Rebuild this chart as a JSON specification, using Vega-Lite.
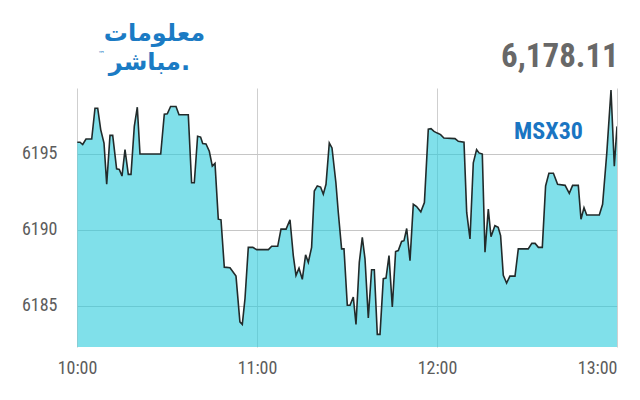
{
  "$schema": "https://vega.github.io/schema/vega-lite/v6.json",
  "width": 540,
  "height": 259,
  "autosize": {"type": "none"},
  "padding": {"left": 77, "top": 88, "right": 23, "bottom": 53},
  "background": "white",
  "config": {
    "view": {"stroke": null},
    "font": "Roboto"
  },
  "layer": [
    {
      "data": {
        "values": [
          {"m": 0.1, "v": 6195.74}, {"m": 1, "v": 6195.74}, {"m": 1.9, "v": 6195.59}, {"m": 3, "v": 6195.95},
          {"m": 4.9, "v": 6195.95}, {"m": 6, "v": 6197.97}, {"m": 6.9, "v": 6197.97}, {"m": 7.9, "v": 6196.57},
          {"m": 9, "v": 6195.69}, {"m": 9.9, "v": 6192.98}, {"m": 11, "v": 6196.19}, {"m": 11.9, "v": 6196.19},
          {"m": 13.2, "v": 6194.0}, {"m": 14.1, "v": 6193.96}, {"m": 15, "v": 6193.52}, {"m": 16, "v": 6195.26},
          {"m": 17.1, "v": 6193.63}, {"m": 18, "v": 6193.63}, {"m": 19.1, "v": 6196.78}, {"m": 20.1, "v": 6198.04},
          {"m": 21, "v": 6194.97}, {"m": 27.9, "v": 6194.97}, {"m": 29.1, "v": 6197.58}, {"m": 30.1, "v": 6197.61},
          {"m": 31.2, "v": 6198.09}, {"m": 33, "v": 6198.09}, {"m": 34, "v": 6197.54}, {"m": 36, "v": 6197.54},
          {"m": 37.1, "v": 6197.54}, {"m": 38.2, "v": 6193.08}, {"m": 39.1, "v": 6193.08}, {"m": 40.2, "v": 6196.13},
          {"m": 41.2, "v": 6196.08}, {"m": 41.9, "v": 6195.65}, {"m": 43, "v": 6195.63}, {"m": 44.1, "v": 6195.15},
          {"m": 45.1, "v": 6194.17}, {"m": 46, "v": 6194.35}, {"m": 47.1, "v": 6190.69}, {"m": 48, "v": 6190.65},
          {"m": 49.1, "v": 6187.54}, {"m": 51, "v": 6187.5}, {"m": 53, "v": 6186.95}, {"m": 54.3, "v": 6183.95},
          {"m": 55.1, "v": 6183.78}, {"m": 56, "v": 6185.48}, {"m": 57.1, "v": 6188.84}, {"m": 58.6, "v": 6188.84},
          {"m": 59.9, "v": 6188.69}, {"m": 63.8, "v": 6188.69}, {"m": 64.9, "v": 6188.91}, {"m": 66.9, "v": 6188.91},
          {"m": 68, "v": 6190.04}, {"m": 69.7, "v": 6190.04}, {"m": 71, "v": 6190.65}, {"m": 72.1, "v": 6188.3},
          {"m": 73, "v": 6187.0}, {"m": 74, "v": 6187.47}, {"m": 75.1, "v": 6186.74}, {"m": 76.2, "v": 6188.35},
          {"m": 77.1, "v": 6187.86}, {"m": 78.2, "v": 6188.84}, {"m": 79.1, "v": 6192.54}, {"m": 80.1, "v": 6192.87},
          {"m": 81.2, "v": 6192.8}, {"m": 82.1, "v": 6192.33}, {"m": 83, "v": 6192.98}, {"m": 84.1, "v": 6195.69},
          {"m": 85, "v": 6195.37}, {"m": 86.3, "v": 6193.08}, {"m": 87.1, "v": 6191.13}, {"m": 88.2, "v": 6188.74},
          {"m": 89, "v": 6188.74}, {"m": 90.1, "v": 6185.04}, {"m": 91, "v": 6185.04}, {"m": 92.1, "v": 6185.58},
          {"m": 93, "v": 6183.78}, {"m": 94.1, "v": 6187.86}, {"m": 95.1, "v": 6189.49}, {"m": 96, "v": 6188.09},
          {"m": 97.1, "v": 6184.21}, {"m": 98.2, "v": 6187.37}, {"m": 99.1, "v": 6187.37}, {"m": 100.1, "v": 6183.13},
          {"m": 101, "v": 6183.13}, {"m": 102.1, "v": 6186.78}, {"m": 103, "v": 6186.82}, {"m": 104, "v": 6188.3},
          {"m": 105.1, "v": 6184.93}, {"m": 106.2, "v": 6188.56}, {"m": 107.1, "v": 6188.63}, {"m": 108.2, "v": 6189.23},
          {"m": 109, "v": 6189.28}, {"m": 109.9, "v": 6190.08}, {"m": 111, "v": 6187.97}, {"m": 112.1, "v": 6191.67},
          {"m": 113.2, "v": 6191.52}, {"m": 114.6, "v": 6191.17}, {"m": 115.8, "v": 6191.78}, {"m": 117.1, "v": 6196.6},
          {"m": 118, "v": 6196.63}, {"m": 119, "v": 6196.45}, {"m": 120.1, "v": 6196.34}, {"m": 121.2, "v": 6196.24},
          {"m": 122.3, "v": 6196.02}, {"m": 126, "v": 6195.98}, {"m": 127.1, "v": 6195.8}, {"m": 129, "v": 6195.74},
          {"m": 129.9, "v": 6191.13}, {"m": 131, "v": 6189.39}, {"m": 132.1, "v": 6194.39}, {"m": 133.2, "v": 6195.26},
          {"m": 134, "v": 6195.04}, {"m": 135.1, "v": 6194.97}, {"m": 136, "v": 6188.52}, {"m": 137.1, "v": 6191.35},
          {"m": 138, "v": 6189.54}, {"m": 139.3, "v": 6190.26}, {"m": 140.4, "v": 6190.15}, {"m": 141.2, "v": 6189.61},
          {"m": 142.1, "v": 6187.0}, {"m": 143.2, "v": 6186.49}, {"m": 144.3, "v": 6186.95}, {"m": 146, "v": 6186.95},
          {"m": 147.1, "v": 6188.74}, {"m": 150.4, "v": 6188.74}, {"m": 151.6, "v": 6189.1}, {"m": 152.7, "v": 6189.1},
          {"m": 153.8, "v": 6188.84}, {"m": 155.1, "v": 6188.84}, {"m": 156.2, "v": 6192.87}, {"m": 157.3, "v": 6193.7},
          {"m": 158.8, "v": 6193.7}, {"m": 160.2, "v": 6192.98}, {"m": 162.7, "v": 6192.91}, {"m": 164.1, "v": 6192.39},
          {"m": 165.2, "v": 6192.91}, {"m": 167.1, "v": 6192.91}, {"m": 168, "v": 6190.69}, {"m": 169, "v": 6191.45},
          {"m": 169.9, "v": 6190.96}, {"m": 174.1, "v": 6190.96}, {"m": 175.2, "v": 6191.67}, {"m": 176.6, "v": 6195.04},
          {"m": 178, "v": 6199.17}, {"m": 179.1, "v": 6194.17}, {"m": 180, "v": 6196.78}
        ]
      },
      "mark": {
        "type": "area",
        "clip": true,
        "color": "#2bcbdc",
        "fillOpacity": 0.6,
        "line": {"color": "#222b2b", "strokeWidth": 1.6}
      },
      "encoding": {
        "x": {
          "field": "m",
          "type": "quantitative",
          "scale": {"domain": [0, 180], "nice": false, "zero": false},
          "axis": {
            "title": null,
            "values": [0, 60, 120, 180],
            "labelExpr": "(10 + datum.value / 60) + ':00'",
            "grid": true,
            "gridColor": "#cfcfcf",
            "gridWidth": 1,
            "domain": false,
            "ticks": false,
            "labelFont": "Roboto Condensed, DejaVu Sans Condensed, Roboto",
            "labelFontSize": 18,
            "labelColor": "#5c5c5c",
            "labelPadding": 12,
            "labelAlign": {"condition": {"test": "datum.value == 180", "value": "right"}, "value": "center"}
          }
        },
        "y": {
          "field": "v",
          "type": "quantitative",
          "scale": {"domain": [6182.3, 6199.3], "nice": false, "zero": false},
          "axis": {
            "title": null,
            "values": [6185, 6190, 6195],
            "format": "d",
            "grid": true,
            "gridColor": "#c6c6c6",
            "gridWidth": 1,
            "domain": false,
            "ticks": false,
            "labelFont": "Roboto Condensed, DejaVu Sans Condensed, Roboto",
            "labelFontSize": 18,
            "labelColor": "#5c5c5c",
            "labelPadding": 20
          }
        }
      }
    },
    {
      "data": {"values": [{}]},
      "mark": {"type": "text", "text": "MSX30", "font": "Roboto Condensed, DejaVu Sans Condensed, Roboto", "fontSize": 24, "fontWeight": "bold", "color": "#1a75c2", "align": "left", "baseline": "alphabetic"},
      "encoding": {"x": {"datum": 145.7, "type": "quantitative"}, "y": {"datum": 6195.93, "type": "quantitative"}}
    },
    {
      "data": {"values": [{}]},
      "mark": {"type": "text", "text": "6,178.11", "font": "Roboto Condensed, DejaVu Sans Condensed, Roboto", "fontSize": 33, "fontWeight": "bold", "color": "#686868", "align": "right", "baseline": "alphabetic"},
      "encoding": {"x": {"datum": 180.6, "type": "quantitative"}, "y": {"datum": 6200.65, "type": "quantitative"}}
    },
    {
      "data": {"values": [{}]},
      "mark": {"type": "text", "text": "معلومات", "font": "DejaVu Sans", "fontSize": 24, "fontWeight": "bold", "color": "#1b7bc4", "align": "right", "baseline": "alphabetic"},
      "encoding": {"x": {"datum": 42.7, "type": "quantitative"}, "y": {"datum": 6202.4, "type": "quantitative"}}
    },
    {
      "data": {"values": [{}]},
      "mark": {"type": "text", "text": "مباشر.", "font": "DejaVu Sans", "fontSize": 24, "fontWeight": "bold", "color": "#1b7bc4", "align": "right", "baseline": "alphabetic"},
      "encoding": {"x": {"datum": 37.7, "type": "quantitative"}, "y": {"datum": 6200.5, "type": "quantitative"}}
    },
    {
      "data": {"values": [{}]},
      "mark": {"type": "text", "text": "™", "font": "DejaVu Sans", "fontSize": 7, "color": "#1b7bc4", "align": "left", "baseline": "alphabetic"},
      "encoding": {"x": {"datum": 7, "type": "quantitative"}, "y": {"datum": 6201.4, "type": "quantitative"}}
    }
  ]
}
